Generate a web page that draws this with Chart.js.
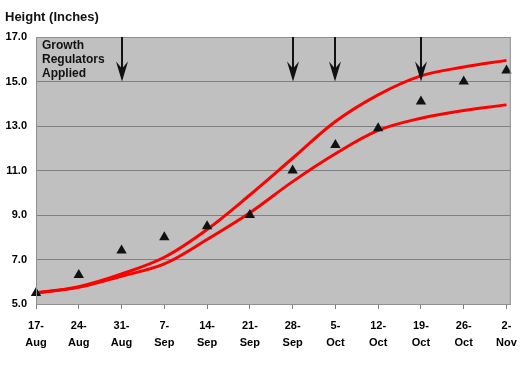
<!DOCTYPE html>
<html>
<head>
<meta charset="utf-8">
<script src="https://cdn.jsdelivr.net/npm/chart.js@4/dist/chart.umd.min.js"></script>
<style>
  html, body { margin: 0; padding: 0; background: #fff; }
  #wrap { width: 525px; height: 365px; position: relative; }
</style>
</head>
<body>
<div id="wrap"><canvas id="chart"></canvas></div>
<script>
const CATEGORIES = ['17-Aug', '24-Aug', '31-Aug', '7-Sep', '14-Sep', '21-Sep',
                    '28-Sep', '5-Oct', '12-Oct', '19-Oct', '26-Oct', '2-Nov'];
const MEASURED = [5.5, 6.3, 7.4, 8.0, 8.5, 9.0, 11.0, 12.15, 12.9, 14.1, 15.0, 15.5];
const UPPER = [5.5, 5.78, 6.35, 7.1, 8.35, 9.9, 11.55, 13.2, 14.4, 15.25, 15.65, 15.95];
const LOWER = [5.5, 5.75, 6.25, 6.8, 7.9, 9.1, 10.5, 11.75, 12.8, 13.35, 13.7, 13.95];
const APPLIED = ['31-Aug', '28-Sep', '5-Oct', '19-Oct'];
const Y_TICKS = [5, 7, 9, 11, 13, 15, 17];
const ARROW_FROM = 17;
const ARROW_TO = 15;

Chart.defaults.font.family = '"Liberation Sans", Arial, sans-serif';
Chart.defaults.color = '#000';

const toPoints = arr => arr.map((v, i) => ({x: i, y: v}));

const plotBackground = {
  id: 'plotBackground',
  beforeDraw(chart) {
    const {ctx, chartArea: a} = chart;
    ctx.save();
    ctx.fillStyle = '#c0c0c0';
    ctx.fillRect(a.left, a.top, a.right - a.left, a.bottom - a.top);
    ctx.restore();
  },
  afterDatasetsDraw(chart) {
    const {ctx, chartArea: a, scales} = chart;
    ctx.save();
    ctx.strokeStyle = '#909090';
    ctx.lineWidth = 1;
    ctx.strokeRect(a.left + 0.5, a.top + 0.5, a.right - a.left - 1, a.bottom - a.top);

    // arrows for growth regulator applications
    ctx.fillStyle = '#111';
    ctx.strokeStyle = '#111';
    APPLIED.forEach(d => {
      const x = Math.round(scales.x.getPixelForValue(CATEGORIES.indexOf(d)));
      const y0 = scales.y.getPixelForValue(ARROW_FROM);
      const y1 = scales.y.getPixelForValue(ARROW_TO);
      ctx.lineWidth = 2;
      ctx.beginPath();
      ctx.moveTo(x, y0);
      ctx.lineTo(x, y1 - 8);
      ctx.stroke();
      ctx.beginPath();
      ctx.moveTo(x, y1);
      ctx.lineTo(x - 6, y1 - 20);
      ctx.lineTo(x, y1 - 13);
      ctx.lineTo(x + 6, y1 - 20);
      ctx.closePath();
      ctx.fill();
    });

    ctx.font = 'bold 12px "Liberation Sans", Arial, sans-serif';
    ctx.textBaseline = 'middle';
    ctx.textAlign = 'left';
    ['Growth', 'Regulators', 'Applied'].forEach((t, i) => {
      ctx.fillText(t, a.left + 6, a.top + 9 + i * 14);
    });

    ctx.font = 'bold 13px "Liberation Sans", Arial, sans-serif';
    ctx.fillText('Height (Inches)', 5, 17);
    ctx.restore();
  }
};

new Chart(document.getElementById('chart'), {
  type: 'line',
  data: {
    datasets: [
      {
        label: 'Measured',
        data: toPoints(MEASURED),
        showLine: false,
        clip: false,
        pointStyle: 'triangle',
        pointRadius: 6,
        backgroundColor: '#111',
        borderColor: '#111',
        borderWidth: 0,
      },
      {
        label: 'Upper',
        data: toPoints(UPPER),
        borderColor: '#ff0000',
        borderWidth: 3,
        pointRadius: 0,
        tension: 0.35,
      },
      {
        label: 'Lower',
        data: toPoints(LOWER),
        borderColor: '#ff0000',
        borderWidth: 3,
        pointRadius: 0,
        tension: 0.35,
      },
    ],
  },
  options: {
    responsive: true,
    maintainAspectRatio: false,
    animation: false,
    layout: { padding: { top: 37, right: 13, left: 0, bottom: 0 } },
    plugins: {
      legend: { display: false },
      tooltip: { enabled: false },
    },
    scales: {
      x: {
        type: 'linear',
        min: 0,
        max: 11.1,
        afterBuildTicks: axis => { axis.ticks = CATEGORIES.map((c, i) => ({value: i})); },
        afterFit: axis => { axis.height = 61; },
        grid: { drawOnChartArea: false, drawTicks: true, tickLength: 5, color: '#808080' },
        border: { color: '#909090' },
        ticks: {
          autoSkip: false,
          maxRotation: 0,
          padding: 8,
          font: { size: 11, weight: 'bold', lineHeight: 1.55 },
          callback: v => {
            const [d, m] = CATEGORIES[v].split('-');
            return [d + '-', m];
          },
        },
      },
      y: {
        min: 5,
        max: 17,
        afterBuildTicks: axis => { axis.ticks = Y_TICKS.map(v => ({value: v})); },
        afterFit: axis => { axis.width = 36; },
        grid: { color: '#808080', drawTicks: false },
        border: { color: '#909090' },
        ticks: {
          padding: 9,
          font: { size: 11, weight: 'bold' },
          callback: v => v.toFixed(1),
        },
      },
    },
  },
  plugins: [plotBackground],
});
</script>
</body>
</html>
